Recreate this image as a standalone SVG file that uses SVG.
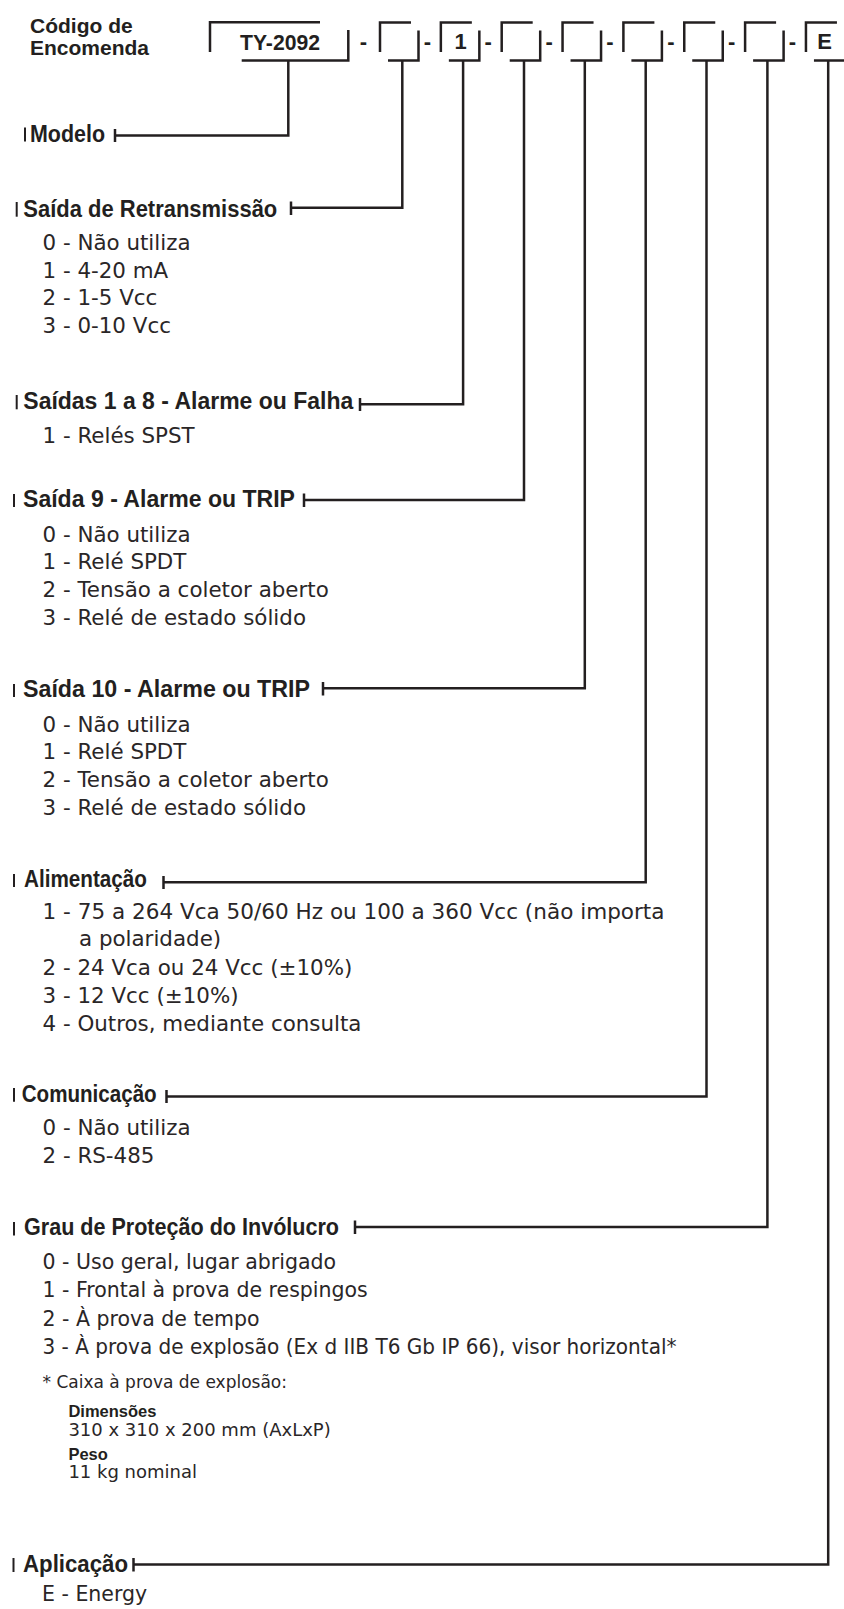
<svg xmlns="http://www.w3.org/2000/svg" width="844" height="1609" viewBox="0 0 844 1609">
<style>
.ln{stroke:#231f20;stroke-width:2.5;fill:none;stroke-linejoin:miter;stroke-linecap:butt}
.bar{stroke:#231f20;stroke-width:2;fill:none}
.h{font-family:"Liberation Sans",Arial,sans-serif;font-weight:bold;font-size:23px;fill:#231f20}
.c{font-family:"Liberation Sans",Arial,sans-serif;font-weight:bold;font-size:21px;fill:#231f20}
.bx{font-family:"Liberation Sans",Arial,sans-serif;font-weight:bold;font-size:22px;fill:#231f20;text-anchor:middle}
.it{font-family:"DejaVu Sans","Liberation Sans",sans-serif;font-size:21.4px;fill:#2a2627}
.it2{font-family:"DejaVu Sans","Liberation Sans",sans-serif;font-size:20.5px;fill:#2a2627}
.sm{font-family:"DejaVu Sans","Liberation Sans",sans-serif;font-size:17px;fill:#2a2627}
.sm2{font-family:"DejaVu Sans","Liberation Sans",sans-serif;font-size:18px;fill:#2a2627}
.smb{font-family:"Liberation Sans",Arial,sans-serif;font-weight:bold;font-size:16.5px;fill:#231f20}
</style>
<rect width="844" height="1609" fill="#ffffff"/>

<g id="order-code">
  <text class="c" x="30" y="33">Código de</text>
  <text class="c" x="30" y="54.5">Encomenda</text>
  <path class="ln" d="M210,52 V22.3 H320"/>
  <path class="ln" d="M348.3,30 V60.5 H241.7"/>
  <text class="bx" x="280" y="50" textLength="80" lengthAdjust="spacingAndGlyphs">TY-2092</text>
  <text class="bx" x="363.5" y="48.5">-</text>
  <path class="ln" d="M380,52 V22.5 H411"/>
  <path class="ln" d="M418.5,30.5 V60.5 H388"/>
  <text class="bx" x="427.4" y="48.5">-</text>
  <path class="ln" d="M440.85,52 V22.5 H471.85"/>
  <path class="ln" d="M479.35,30.5 V60.5 H448.85"/>
  <text class="bx" x="460.6" y="48.5">1</text>
  <text class="bx" x="488.2" y="48.5">-</text>
  <path class="ln" d="M501.7,52 V22.5 H532.7"/>
  <path class="ln" d="M540.2,30.5 V60.5 H509.7"/>
  <text class="bx" x="549.1" y="48.5">-</text>
  <path class="ln" d="M562.55,52 V22.5 H593.55"/>
  <path class="ln" d="M601.05,30.5 V60.5 H570.55"/>
  <text class="bx" x="609.9" y="48.5">-</text>
  <path class="ln" d="M623.4,52 V22.5 H654.4"/>
  <path class="ln" d="M661.9,30.5 V60.5 H631.4"/>
  <text class="bx" x="670.8" y="48.5">-</text>
  <path class="ln" d="M684.25,52 V22.5 H715.25"/>
  <path class="ln" d="M722.75,30.5 V60.5 H692.25"/>
  <text class="bx" x="731.6" y="48.5">-</text>
  <path class="ln" d="M745.1,52 V22.5 H776.1"/>
  <path class="ln" d="M783.6,30.5 V60.5 H753.1"/>
  <text class="bx" x="792.5" y="48.5">-</text>
  <path class="ln" d="M805.95,52 V22.5 H836.95"/>
  <path class="ln" d="M846,30.5 V60.5 H813.95"/>
  <text class="bx" x="824.5" y="49">E</text>
</g>

<g id="connectors">
  <path class="ln" d="M288.3,60.5 V135.5 H115"/>
  <path class="ln" d="M115,129 V142"/>
  <path class="ln" d="M402.3,60.5 V207.7 H291"/>
  <path class="ln" d="M291,201.5 V215"/>
  <path class="ln" d="M463.1,60.5 V404.3 H360"/>
  <path class="ln" d="M360,398 V411"/>
  <path class="ln" d="M524,60.5 V500 H304"/>
  <path class="ln" d="M304,493.5 V507"/>
  <path class="ln" d="M584.8,60.5 V688.3 H323"/>
  <path class="ln" d="M323,682 V695.5"/>
  <path class="ln" d="M645.7,60.5 V882.3 H163.5"/>
  <path class="ln" d="M163.5,876 V889"/>
  <path class="ln" d="M706.5,60.5 V1096.5 H166.5"/>
  <path class="ln" d="M166.5,1090 V1103"/>
  <path class="ln" d="M767.4,60.5 V1227 H355"/>
  <path class="ln" d="M355,1220.5 V1234"/>
  <path class="ln" d="M828.2,60.5 V1564.5 H133.5"/>
  <path class="ln" d="M133.5,1558 V1571.5"/>
</g>

<g id="modelo">
  <path class="bar" d="M25,127.5 V141.5"/>
  <text class="h" x="30" y="141.7" textLength="75" lengthAdjust="spacingAndGlyphs">Modelo</text>
</g>

<g id="retransmissao">
  <path class="bar" d="M16.7,202 V216.7"/>
  <text class="h" x="23.3" y="216.7" textLength="254" lengthAdjust="spacingAndGlyphs">Saída de Retransmissão</text>
  <text class="it" x="42.5" y="250">0 - Não utiliza</text>
  <text class="it" x="42.5" y="277.7">1 - 4-20 mA</text>
  <text class="it" x="42.5" y="305.4">2 - 1-5 Vcc</text>
  <text class="it" x="42.5" y="333.1">3 - 0-10 Vcc</text>
</g>

<g id="saidas-1-8">
  <path class="bar" d="M16.7,395 V409.3"/>
  <text class="h" x="23.3" y="409.3" textLength="330" lengthAdjust="spacingAndGlyphs">Saídas 1 a 8 - Alarme ou Falha</text>
  <text class="it" x="42.5" y="443">1 - Relés SPST</text>
</g>

<g id="saida-9">
  <path class="bar" d="M14,494 V507"/>
  <text class="h" x="23" y="506.7" textLength="272" lengthAdjust="spacingAndGlyphs">Saída 9 - Alarme ou TRIP</text>
  <text class="it" x="42.5" y="541.7">0 - Não utiliza</text>
  <text class="it" x="42.5" y="569.4">1 - Relé SPDT</text>
  <text class="it" x="42.5" y="597.1">2 - Tensão a coletor aberto</text>
  <text class="it" x="42.5" y="624.8">3 - Relé de estado sólido</text>
</g>

<g id="saida-10">
  <path class="bar" d="M14,684 V697"/>
  <text class="h" x="23" y="696.7" textLength="287" lengthAdjust="spacingAndGlyphs">Saída 10 - Alarme ou TRIP</text>
  <text class="it" x="42.5" y="731.7">0 - Não utiliza</text>
  <text class="it" x="42.5" y="759.4">1 - Relé SPDT</text>
  <text class="it" x="42.5" y="787.1">2 - Tensão a coletor aberto</text>
  <text class="it" x="42.5" y="814.8">3 - Relé de estado sólido</text>
</g>

<g id="alimentacao">
  <path class="bar" d="M14,874 V887"/>
  <text class="h" x="24" y="886.7" textLength="123" lengthAdjust="spacingAndGlyphs">Alimentação</text>
  <text class="it" x="42.5" y="918.5" textLength="622" lengthAdjust="spacingAndGlyphs">1 - 75 a 264 Vca 50/60 Hz ou 100 a 360 Vcc (não importa</text>
  <text class="it" x="79" y="946.3">a polaridade)</text>
  <text class="it" x="42.5" y="975">2 - 24 Vca ou 24 Vcc (±10%)</text>
  <text class="it" x="42.5" y="1003">3 - 12 Vcc (±10%)</text>
  <text class="it" x="42.5" y="1031">4 - Outros, mediante consulta</text>
</g>

<g id="comunicacao">
  <path class="bar" d="M14,1088 V1101.7"/>
  <text class="h" x="21.7" y="1101.7" textLength="135" lengthAdjust="spacingAndGlyphs">Comunicação</text>
  <text class="it" x="42.5" y="1135">0 - Não utiliza</text>
  <text class="it" x="42.5" y="1162.7">2 - RS-485</text>
</g>

<g id="grau-protecao">
  <path class="bar" d="M14,1222 V1235.5"/>
  <text class="h" x="24" y="1235" textLength="315" lengthAdjust="spacingAndGlyphs">Grau de Proteção do Invólucro</text>
  <text class="it2" x="42.5" y="1269">0 - Uso geral, lugar abrigado</text>
  <text class="it2" x="42.5" y="1297.3">1 - Frontal à prova de respingos</text>
  <text class="it2" x="42.5" y="1325.7">2 - À prova de tempo</text>
  <text class="it2" x="42.5" y="1353.7" textLength="634" lengthAdjust="spacingAndGlyphs">3 - À prova de explosão (Ex d IIB T6 Gb IP 66), visor horizontal*</text>
  <text class="sm" x="42.5" y="1388">* Caixa à prova de explosão:</text>
  <text class="smb" x="68.4" y="1417.3">Dimensões</text>
  <text class="sm2" x="68.4" y="1435.7">310 x 310 x 200 mm (AxLxP)</text>
  <text class="smb" x="68.4" y="1459.7">Peso</text>
  <text class="sm2" x="68.4" y="1478.3">11 kg nominal</text>
</g>

<g id="aplicacao">
  <path class="bar" d="M13.5,1558 V1572"/>
  <text class="h" x="23" y="1572" textLength="105" lengthAdjust="spacingAndGlyphs">Aplicação</text>
  <text class="it2" x="42" y="1601">E - Energy</text>
</g>
</svg>
